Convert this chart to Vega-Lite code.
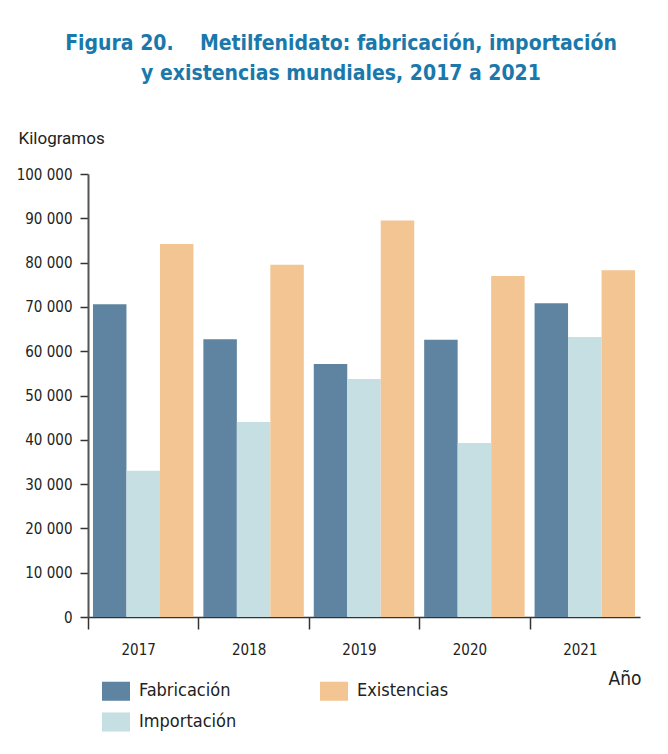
{
  "$schema": "https://vega.github.io/schema/vega-lite/v6.json",
  "width": 552,
  "height": 443,
  "autosize": {"type": "none"},
  "padding": {"left": 88, "top": 174, "right": 28, "bottom": 137},
  "background": "white",
  "title": {
    "text": ["Figura 20.\u00a0\u00a0\u00a0 Metilfenidato: fabricación, importación", "y existencias mundiales, 2017 a 2021"],
    "font": "DejaVu Sans Condensed",
    "fontSize": 21,
    "fontWeight": "bold",
    "color": "#1a78ab",
    "lineHeight": 30,
    "anchor": "middle",
    "dx": -23,
    "offset": 45
  },
  "data": {
    "values": [
      {"year": "2017", "serie": "Fabricación", "value": 70600},
      {"year": "2017", "serie": "Importación", "value": 33000},
      {"year": "2017", "serie": "Existencias", "value": 84200},
      {"year": "2018", "serie": "Fabricación", "value": 62700},
      {"year": "2018", "serie": "Importación", "value": 44000},
      {"year": "2018", "serie": "Existencias", "value": 79500},
      {"year": "2019", "serie": "Fabricación", "value": 57100},
      {"year": "2019", "serie": "Importación", "value": 53700},
      {"year": "2019", "serie": "Existencias", "value": 89500},
      {"year": "2020", "serie": "Fabricación", "value": 62600},
      {"year": "2020", "serie": "Importación", "value": 39300},
      {"year": "2020", "serie": "Existencias", "value": 77000},
      {"year": "2021", "serie": "Fabricación", "value": 70800},
      {"year": "2021", "serie": "Importación", "value": 63200},
      {"year": "2021", "serie": "Existencias", "value": 78300}
    ]
  },
  "mark": {"type": "bar"},
  "encoding": {
    "x": {
      "field": "year",
      "type": "nominal",
      "scale": {"paddingInner": 0.09, "paddingOuter": 0.045},
      "axis": {
        "title": "Año",
        "titleFont": "DejaVu Sans Condensed",
        "titleFontSize": 19,
        "titleFontWeight": "normal",
        "titleColor": "#222",
        "titleX": 553,
        "titleY": 67,
        "titleAlign": "right",
        "titleBaseline": "alphabetic",
        "labelAngle": 0,
        "labelFont": "DejaVu Sans Condensed",
        "labelFontSize": 15,
        "labelColor": "#222",
        "labelPadding": 13,
        "bandPosition": 0,
        "tickOffset": -5,
        "tickSize": 12,
        "tickColor": "#333",
        "tickWidth": 1.5,
        "domainColor": "#333",
        "domainWidth": 1.5
      }
    },
    "xOffset": {
      "field": "serie",
      "type": "nominal",
      "sort": ["Fabricación", "Importación", "Existencias"],
      "scale": {"paddingInner": 0, "paddingOuter": 0}
    },
    "y": {
      "field": "value",
      "type": "quantitative",
      "scale": {"domain": [0, 100000]},
      "axis": {
        "values": [0, 10000, 20000, 30000, 40000, 50000, 60000, 70000, 80000, 90000, 100000],
        "labelExpr": "replace(format(datum.value, ','), regexp(',', 'g'), ' ')",
        "title": "Kilogramos",
        "titleAngle": 0,
        "titleAlign": "left",
        "titleBaseline": "alphabetic",
        "titleX": -70,
        "titleY": -31,
        "titleFont": "Roboto",
        "titleFontSize": 17,
        "titleFontWeight": "normal",
        "titleColor": "#222",
        "labelFont": "DejaVu Sans Condensed",
        "labelFontSize": 15,
        "labelColor": "#222",
        "labelPadding": 8,
        "tickSize": 8,
        "tickColor": "#333",
        "tickWidth": 1.5,
        "domainColor": "#555",
        "domainWidth": 2,
        "grid": false
      }
    },
    "color": {
      "field": "serie",
      "type": "nominal",
      "scale": {
        "domain": ["Fabricación", "Existencias", "Importación"],
        "range": ["#5e84a1", "#f3c593", "#c5dfe3"]
      },
      "legend": {
        "title": null,
        "orient": "none",
        "direction": "horizontal",
        "legendX": 14,
        "legendY": 503,
        "columns": 2,
        "columnPadding": 83,
        "rowPadding": 7,
        "symbolType": "M-1,-0.68H1V0.68H-1Z",
        "symbolSize": 784,
        "symbolStrokeWidth": 0,
        "symbolOpacity": 1,
        "labelFont": "DejaVu Sans Condensed",
        "labelFontSize": 18,
        "labelColor": "#222",
        "labelOffset": 9,
        "labelLimit": 300
      }
    }
  },
  "config": {
    "view": {"stroke": null},
    "axis": {"ticks": true}
  }
}
